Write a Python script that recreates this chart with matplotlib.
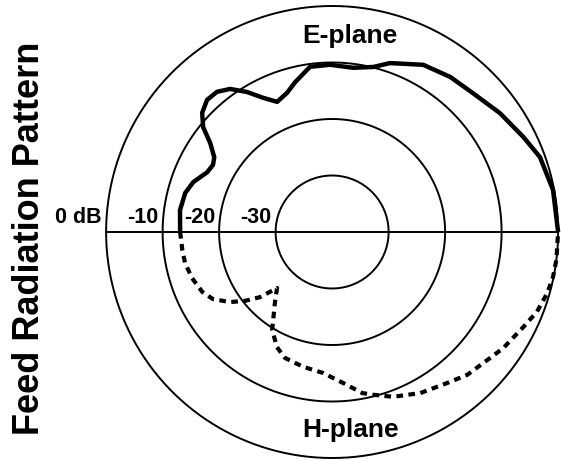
import numpy as np
import matplotlib
matplotlib.use("Agg")
import matplotlib.pyplot as plt

plt.rcParams['font.family'] = ['Liberation Sans', 'DejaVu Sans']
plt.rcParams['font.weight'] = 'bold'

# ring levels (dB) and their labels
ring_db = [0, -10, -20, -30]
ring_labels = ['0 dB', '-10', '-20', '-30']
r_min = -40

# E-plane (upper half), angle in degrees from boresight (right side)
e_theta = [180, 171.8, 165.1, 160.2, 154.4, 150.6, 147.6, 143.9, 140.9, 137.5,
           133.4, 129.4, 125.5, 121.3, 117.2, 112.9, 107.9, 103.9, 97.6, 90.7,
           82.7, 76, 71.1, 61.4, 52.7, 44.6, 35.3, 26.4, 19.8, 10.8, 0]
e_db = [-13.1, -12.8, -13.1, -13.9, -15.5, -15.8, -15.3, -13.3, -10.6, -8.8,
        -7.8, -7.9, -8.9, -11.0, -13.3, -15.0, -14.1, -12.7, -10.5, -10.4,
        -10.7, -9.9, -8.4, -6.3, -5.5, -5.0, -3.6, -2.2, -0.9, -0.2, 0]

# H-plane (lower half)
h_theta = [180, 173.2, 168.1, 161.8, 155.2, 150.6, 145.5, 141.6, 137.9, 134.5,
           129.2, 121.5, 115.6, 110.5, 102.1, 93.7, 85.8, 79.4, 75.9, 69.7, 61.3,
           52.7, 46.6, 39.6, 34.2, 26.4, 21.3, 15.8, 11.5, 7.1, 0]
h_db = [-13.1, -13.3, -13.4, -13.9, -14.7, -15.8, -18.1, -20.4, -22.8, -26.1,
        -24.0, -19.7, -17.4, -16.2, -15.6, -15.0, -13.2, -11.0, -10.3, -8.9, -7.5,
        -6.4, -5.2, -4.4, -3.4, -2.2, -1.1, -0.4, -0.1, 0, 0]

fig = plt.figure(figsize=(5.61, 4.61), dpi=100)
ax = fig.add_axes([0.189, 0.0065, 0.806, 0.9805], projection='polar')
ax.set_ylim(r_min, 0)
ax.grid(False)
ax.set_xticks([])
ax.set_yticks([])
ax.spines['polar'].set_visible(False)

# rings
t = np.linspace(0, 2 * np.pi, 721)
for lvl in ring_db:
    ax.plot(t, np.full_like(t, lvl), color='black', lw=1.4, clip_on=False)

# horizontal axis line
ax.plot([np.pi, np.pi], [0, r_min], color='black', lw=1.4, clip_on=False)
ax.plot([0, 0], [r_min, 0], color='black', lw=1.4, clip_on=False)

# ring labels
for lvl, lab in zip(ring_db, ring_labels):
    ax.annotate(lab, xy=(np.pi, lvl), xytext=(-3, 3), textcoords='offset points',
                ha='right', va='bottom', fontsize=15.5, fontweight='bold',
                annotation_clip=False)

ax.plot(np.radians(e_theta), e_db, color='black', lw=3.2, clip_on=False,
        solid_capstyle='butt', solid_joinstyle='round')
ax.plot(-np.radians(h_theta), h_db, color='black', lw=3.0, clip_on=False,
        linestyle=(0, (1.6, 1.3)))

fig.text(0.624, 0.922, 'E-plane', ha='center', va='center', fontsize=19, fontweight='bold')
fig.text(0.624, 0.068, 'H-plane', ha='center', va='center', fontsize=19, fontweight='bold')
fig.text(0.052, 0.484, 'Feed Radiation Pattern', ha='center', va='center',
         rotation=90, fontsize=26, fontweight='bold')

fig.savefig('out.png', dpi=100)
